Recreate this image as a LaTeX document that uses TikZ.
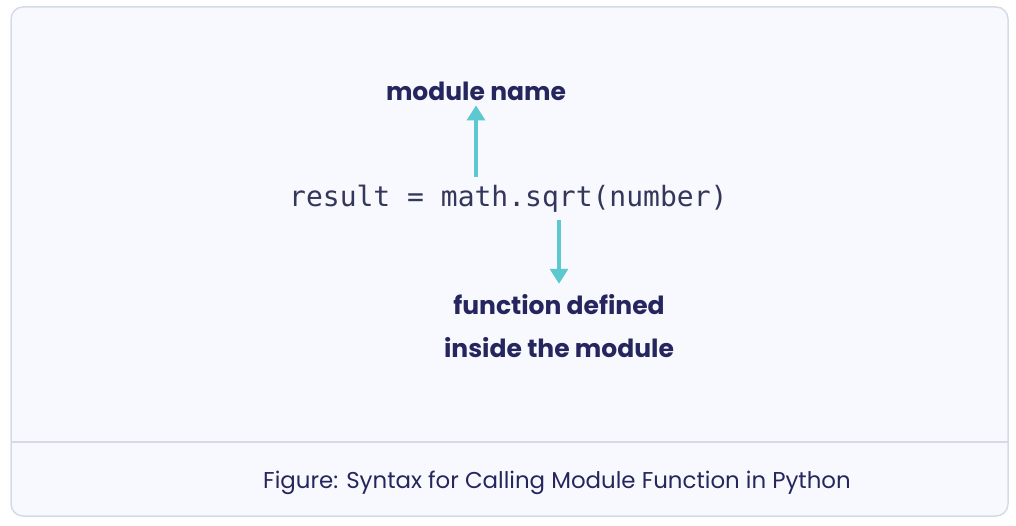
\documentclass[tikz,border=0pt]{standalone}
\usepackage{fontspec}
\setmainfont{Poppins}
\newfontfamily\codefont{DejaVu Sans Mono}
\usetikzlibrary{arrows.meta,positioning,calc}
\definecolor{framecol}{RGB}{213,219,230}
\definecolor{panelcol}{RGB}{248,249,254}
\definecolor{textcol}{RGB}{37,38,94}
\definecolor{codecol}{RGB}{52,55,92}
\definecolor{arrowcol}{RGB}{92,200,207}

\begin{document}
\begin{tikzpicture}[x=1pt,y=-1pt,
  label/.style={text=textcol,font=\fontsize{25}{43}\selectfont\bfseries,align=center,inner sep=0pt},
  pointer/.style={draw=arrowcol,line width=3.2pt,-{Triangle[length=15pt,width=18pt]}}]
\useasboundingbox (0,0) rectangle (1016,526);
% Frame and caption strip
\draw[framecol,fill=panelcol,line width=1.5pt,rounded corners=12pt] (11,7) rectangle (1008,516);
\draw[framecol,line width=1.5pt] (11,442) -- (1008,442);

% Code line and labels
\node[text=codecol,font=\codefont\fontsize{28}{33}\selectfont,inner sep=0pt,anchor=base west] (code) at (289,207) {result = math.sqrt(number)};
\node[label,anchor=base] (modname) at (476,101) {module name};
\node[label,anchor=base] (funcdef) at (559,357) {function defined\\inside the module};
\node[text=textcol,font=\fontsize{22.9}{28}\selectfont,inner sep=0pt,anchor=base] (caption) at (557,488) {Figure: Syntax for Calling Module Function in Python};

% Arrows
\coordinate (uptail) at (476,177);
\coordinate (downtail) at (559,220);
\draw[pointer] (uptail) -- ($(modname.south)+(0,4)$);
\draw[pointer] (downtail) -- ($(funcdef.north)+(0,-10)$);

\end{tikzpicture}
\end{document}
